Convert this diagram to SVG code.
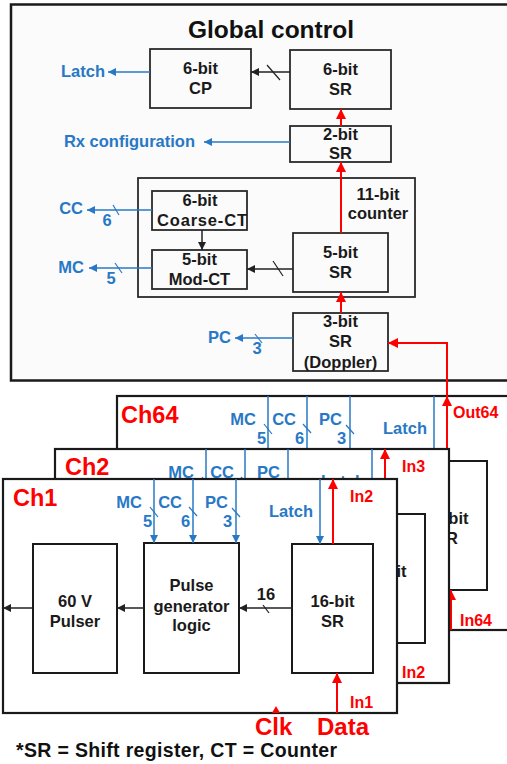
<svg xmlns="http://www.w3.org/2000/svg" width="507" height="764" viewBox="0 0 507 764">
<style>
.gb{fill:#fbfbfb;stroke:#1a1a1a;stroke-width:2.5}
.bx{fill:#fbfbfb;stroke:#2a2a2a;stroke-width:1.8}
.cb{fill:#fff;stroke:#1a1a1a;stroke-width:2.2}
.ib{fill:#fff;stroke:#1a1a1a;stroke-width:2}
text{font-family:"Liberation Sans",Arial,sans-serif;font-weight:bold}
.t{font-size:16.5px;fill:#1a1a1a;text-anchor:middle}
.bl{font-size:16.5px;fill:#2878c6}
.e{text-anchor:end}
.m{text-anchor:middle}
.rd{font-size:16px;fill:#ff0000}
.ch{font-size:23.5px;fill:#ff0000}
.big{font-size:24px;fill:#ff0000}
.lb{stroke:#2878c6;stroke-width:1.5;fill:none}
.lk{stroke:#222;stroke-width:1.5;fill:none}
.lr{stroke:#ff0000;stroke-width:2;fill:none}
.sk{stroke:#222;stroke-width:1.2}
.sb{stroke:#2878c6;stroke-width:1.2}
</style>
<defs>
<marker id="ab" viewBox="0 0 10 10" refX="10" refY="5" markerWidth="9" markerHeight="8" markerUnits="userSpaceOnUse" orient="auto"><path d="M0,0L10,5L0,10z" fill="#2878c6"/></marker>
<marker id="ak" viewBox="0 0 10 10" refX="10" refY="5" markerWidth="9" markerHeight="8" markerUnits="userSpaceOnUse" orient="auto"><path d="M0,0L10,5L0,10z" fill="#222"/></marker>
<marker id="ar" viewBox="0 0 10 10" refX="10" refY="5" markerWidth="11" markerHeight="10" markerUnits="userSpaceOnUse" orient="auto"><path d="M0,0L10,5L0,10z" fill="#ff0000"/></marker>
</defs>

<g id="global">
<rect class="gb" x="11" y="4.5" width="510" height="376"/>
<text x="271" y="38" style="font-size:24.5px;fill:#111;text-anchor:middle">Global control</text>
<rect id="ctr11" class="bx" x="138" y="178" width="277" height="119"/>
<text class="t" x="378" y="200">11-bit</text>
<text class="t" x="378" y="219">counter</text>
<g id="cp6"><rect class="bx" x="150" y="49" width="101" height="59"/><text class="t" x="200.5" y="74">6-bit</text><text class="t" x="200.5" y="94">CP</text></g>
<g id="sr6"><rect class="bx" x="290" y="50" width="101" height="59"/><text class="t" x="340.5" y="75">6-bit</text><text class="t" x="340.5" y="95">SR</text></g>
<g id="sr2"><rect class="bx" x="290" y="126" width="101" height="36"/><text class="t" x="340.5" y="140">2-bit</text><text class="t" x="340.5" y="159">SR</text></g>
<g id="coarse"><rect class="bx" x="152" y="191" width="95" height="39"/><text class="t" x="200" y="206">6-bit</text><text class="t" x="202" y="226" textLength="90">Coarse-CT</text></g>
<g id="mod"><rect class="bx" x="152" y="250" width="95" height="39"/><text class="t" x="199.5" y="265">5-bit</text><text class="t" x="199.5" y="285">Mod-CT</text></g>
<g id="sr5"><rect class="bx" x="293" y="233" width="95" height="59"/><text class="t" x="340.5" y="258">5-bit</text><text class="t" x="340.5" y="278">SR</text></g>
<g id="sr3"><rect class="bx" x="293" y="313" width="95" height="58"/><text class="t" x="340.5" y="327">3-bit</text><text class="t" x="340.5" y="347">SR</text><text class="t" x="340.5" y="368">(Doppler)</text></g>
<text class="bl e" x="105" y="77">Latch</text>
<text class="bl e" x="195" y="147">Rx configuration</text>
<text class="bl e" x="83" y="214">CC</text><text class="bl m" x="107" y="226">6</text>
<text class="bl e" x="84" y="273">MC</text><text class="bl m" x="111" y="284">5</text>
<text class="bl e" x="231" y="343">PC</text><text class="bl m" x="257" y="354">3</text>
</g>

<g id="global-connectors">
<path class="lk" d="M290,72H251" marker-end="url(#ak)"/><line class="sk" x1="267" y1="65" x2="280" y2="80"/>
<path class="lb" d="M150,72H108" marker-end="url(#ab)"/>
<path class="lr" d="M341,126V109" marker-end="url(#ar)"/>
<path class="lb" d="M290,142H204" marker-end="url(#ab)"/>
<path class="lr" d="M341,233V162" marker-end="url(#ar)"/>
<path class="lk" d="M202,230V250" marker-end="url(#ak)"/>
<path class="lk" d="M293,269H247" marker-end="url(#ak)"/><line class="sk" x1="273" y1="261" x2="283" y2="276"/>
<path class="lb" d="M152,210H87" marker-end="url(#ab)"/><line class="sb" x1="113" y1="205" x2="119" y2="215"/>
<path class="lb" d="M152,268H89" marker-end="url(#ab)"/><line class="sb" x1="115" y1="263" x2="122" y2="273"/>
<path class="lr" d="M341,313V292" marker-end="url(#ar)"/>
<path class="lb" d="M293,338H235" marker-end="url(#ab)"/><line class="sb" x1="255" y1="334" x2="262" y2="343"/>
</g>

<g id="ch64" transform="translate(114,-83)">
<rect class="cb" x="3" y="479" width="394" height="234"/>
<text class="ch" x="7" y="506">Ch64</text>
<g id="ch64-pulser"><rect class="ib" x="33" y="544" width="84" height="129"/></g>
<g id="ch64-pgl"><rect class="ib" x="144" y="543" width="95" height="130"/></g>
<g id="ch64-sr"><rect class="ib" x="292" y="544" width="81" height="129"/><text class="t" x="332.5" y="607">16-bit</text><text class="t" x="332.5" y="627">SR</text></g>
<text class="bl e" x="142" y="508">MC</text><text class="bl m" x="147.5" y="527">5</text>
<text class="bl e" x="182" y="508">CC</text><text class="bl m" x="185.5" y="527">6</text>
<text class="bl e" x="228" y="508">PC</text><text class="bl m" x="227.5" y="527">3</text>
<text class="bl e" x="313" y="517">Latch</text>
<text class="rd" x="339" y="501">Out64</text>
<text class="rd" x="346" y="709">In64</text>
<g id="ch64-connectors">
<path class="lb" d="M154,479V543" marker-end="url(#ab)"/><line class="sb" x1="150" y1="507" x2="158" y2="517"/>
<path class="lb" d="M193,479V543" marker-end="url(#ab)"/><line class="sb" x1="189" y1="507" x2="197" y2="516"/>
<path class="lb" d="M236,479V543" marker-end="url(#ab)"/><line class="sb" x1="232" y1="508" x2="240" y2="517"/>
<path class="lb" d="M320,479V544" marker-end="url(#ab)"/>
<path class="lr" d="M333,544V479" marker-end="url(#ar)"/>
<path class="lr" d="M337,713V673" marker-end="url(#ar)"/>
</g>
</g>

<g id="feed-connector">
<path class="lr" d="M447,396V343H388" marker-end="url(#ar)"/>
</g>

<g id="ch2" transform="translate(52,-30)">
<rect class="cb" x="3" y="479" width="394" height="234"/>
<text class="ch" x="13" y="505">Ch2</text>
<g id="ch2-pulser"><rect class="ib" x="33" y="544" width="84" height="129"/></g>
<g id="ch2-pgl"><rect class="ib" x="144" y="543" width="95" height="130"/></g>
<g id="ch2-sr"><rect class="ib" x="292" y="544" width="81" height="129"/><text class="t" x="332.5" y="607">16-bit</text><text class="t" x="332.5" y="627">SR</text></g>
<text class="bl e" x="142" y="508">MC</text><text class="bl m" x="147.5" y="527">5</text>
<text class="bl e" x="182" y="508">CC</text><text class="bl m" x="185.5" y="527">6</text>
<text class="bl e" x="228" y="508">PC</text><text class="bl m" x="227.5" y="527">3</text>
<text class="bl e" x="313" y="517">Latch</text>
<text class="rd" x="350" y="502">In3</text>
<text class="rd" x="350" y="708">In2</text>
<g id="ch2-connectors">
<path class="lb" d="M154,479V543" marker-end="url(#ab)"/><line class="sb" x1="150" y1="507" x2="158" y2="517"/>
<path class="lb" d="M193,479V543" marker-end="url(#ab)"/><line class="sb" x1="189" y1="507" x2="197" y2="516"/>
<path class="lb" d="M236,479V543" marker-end="url(#ab)"/><line class="sb" x1="232" y1="508" x2="240" y2="517"/>
<path class="lb" d="M320,479V544" marker-end="url(#ab)"/>
<path class="lr" d="M333,544V479" marker-end="url(#ar)"/>
<path class="lr" d="M337,713V673" marker-end="url(#ar)"/>
</g>
</g>

<g id="ch1">
<rect class="cb" x="3" y="479" width="394" height="234"/>
<text class="ch" x="13" y="506">Ch1</text>
<g id="ch1-pulser"><rect class="ib" x="33" y="544" width="84" height="129"/><text class="t" x="75" y="607">60 V</text><text class="t" x="75" y="627">Pulser</text></g>
<g id="ch1-pgl"><rect class="ib" x="144" y="543" width="95" height="130"/><text class="t" x="191.5" y="591">Pulse</text><text class="t" x="191.5" y="612">generator</text><text class="t" x="191.5" y="631">logic</text></g>
<g id="ch1-sr"><rect class="ib" x="292" y="544" width="81" height="129"/><text class="t" x="332.5" y="607">16-bit</text><text class="t" x="332.5" y="627">SR</text></g>
<text class="bl e" x="142" y="508">MC</text><text class="bl m" x="147.5" y="527">5</text>
<text class="bl e" x="182" y="508">CC</text><text class="bl m" x="185.5" y="527">6</text>
<text class="bl e" x="228" y="508">PC</text><text class="bl m" x="227.5" y="527">3</text>
<text class="bl e" x="313" y="517">Latch</text>
<text class="t" x="266" y="600">16</text>
<text class="rd" x="350" y="502">In2</text>
<text class="rd" x="350" y="708">In1</text>
<g id="ch1-connectors">
<path class="lk" d="M292,608H239" marker-end="url(#ak)"/><line class="sk" x1="263" y1="605" x2="269" y2="613"/>
<path class="lk" d="M144,608H117" marker-end="url(#ak)"/>
<path class="lk" d="M33,608H3" marker-end="url(#ak)"/>
<path class="lb" d="M154,479V543" marker-end="url(#ab)"/><line class="sb" x1="150" y1="507" x2="158" y2="517"/>
<path class="lb" d="M193,479V543" marker-end="url(#ab)"/><line class="sb" x1="189" y1="507" x2="197" y2="516"/>
<path class="lb" d="M236,479V543" marker-end="url(#ab)"/><line class="sb" x1="232" y1="508" x2="240" y2="517"/>
<path class="lb" d="M320,479V544" marker-end="url(#ab)"/>
<path class="lr" d="M333,544V479" marker-end="url(#ar)"/>
<path class="lr" d="M337,713V673" marker-end="url(#ar)"/>
<polygon points="272,713 280,713 276,706" fill="#ff0000"/>
</g>
</g>

<text class="big" x="255" y="735">Clk</text>
<text class="big" x="317" y="735">Data</text>
<text x="16" y="757" textLength="321" style="font-size:19.5px;fill:#111">*SR = Shift register, CT = Counter</text>
</svg>
